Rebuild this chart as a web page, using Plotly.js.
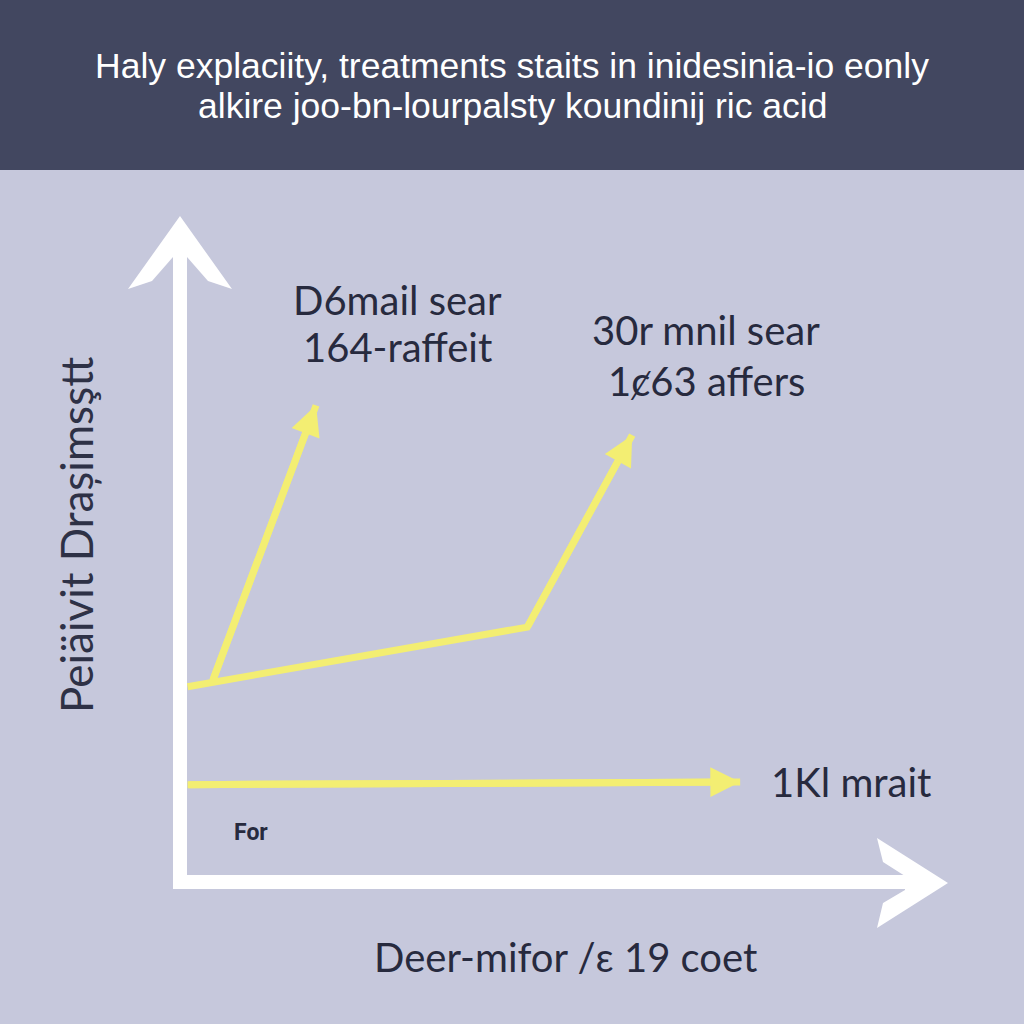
<!DOCTYPE html>
<html>
<head>
<meta charset="utf-8">
<script src="https://cdn.plot.ly/plotly-3.0.1.min.js"></script>
<style>html,body{margin:0;padding:0;background:#c6c8dc;}#chart{width:1024px;height:1024px;}</style>
</head>
<body>
<div id="chart"></div>
<script>
// ---- data (chart units, 0..10 on both axes) ----
const riseX = [0.1, 4.57, 5.95];
const riseY = [2.95, 3.85, 6.75];
const steepX = [0.43, 1.79];
const steepY = [3.04, 7.2];
const flatX = [0.1, 7.37];
const flatY = [1.47, 1.51];

const titleLines = ["Haly explaciity, treatments staits in inidesinia-io eonly", "alkire joo-bn-lourpalsty koundinij ric acid"];
const labelSteep = ["D6mail sear", "164-raffeit"];
const labelRise = ["30r mnil sear", "1ȼ63 affers"];
const labelFlat = "1Kl mrait";
const labelFor = "For";
const yTitle = "Peiäivit Drașimsştt";
const xTitle = "Deer-mifor /ɛ 19 coet";

// ---- layout geometry (pixels) ----
const L = 180, R = 940, T = 220, B = 882;
const px = x => (x - L) / (R - L);
const py = y => (B - y) / (B - T);
const pathOf = pts => 'M' + pts.map(p => px(p[0]) + ',' + py(p[1])).join(' L') + ' Z';

const yellow = '#f3ee72';
const dark = '#272a3e';
const white = '#ffffff';
const labelFont = 'Lato, "Noto Sans", sans-serif';
const titleFont = '"Liberation Sans", Arial, sans-serif';

function seriesTrace(xs, ys) {
  return {x: xs, y: ys, type: 'scatter', mode: 'lines', hoverinfo: 'skip',
    line: {color: yellow, width: 7}, showlegend: false};
}
function headAnn(xs, ys) {
  const n = xs.length;
  return {x: xs[n-1], y: ys[n-1], ax: xs[n-2], ay: ys[n-2], xref: 'x', yref: 'y', axref: 'x', ayref: 'y',
    text: '', showarrow: true, arrowhead: 2, arrowsize: 0.85, arrowwidth: 7, arrowcolor: yellow, standoff: 0};
}
function label(x, y, text, size, extra) {
  return Object.assign({xref: 'paper', yref: 'paper', x: px(x), y: py(y), text: text, showarrow: false,
    xanchor: 'center', yanchor: 'middle', font: {family: labelFont, size: size, color: dark}}, extra || {});
}

const traces = [seriesTrace(riseX, riseY), seriesTrace(steepX, steepY), seriesTrace(flatX, flatY)];

const annotations = [
  headAnn(riseX, riseY), headAnn(steepX, steepY), headAnn(flatX, flatY),
  label(512, 106, titleLines[1], 35.5, {font: {family: titleFont, size: 35.5, color: white}}),
  label(397, 300, labelSteep[0], 40),
  label(397, 347, labelSteep[1], 40),
  label(706, 330, labelRise[0], 40),
  label(706, 381, labelRise[1], 40),
  label(769, 782, labelFlat, 40, {xanchor: 'left'}),
  label(232, 832, labelFor, 23, {xanchor: 'left', font: {family: 'Roboto, sans-serif', size: 23, color: dark, weight: 'bold'}}),
  label(76, 535, yTitle, 44, {textangle: -90, font: {family: labelFont, size: 44, color: '#2e3146'}}),
  label(565, 957, xTitle, 40)
];

const shapes = [
  {type: 'rect', xref: 'paper', yref: 'paper', x0: px(-10), x1: px(1034), y0: py(170), y1: py(-10),
   fillcolor: '#424760', line: {width: 0}, layer: 'below'},
  // y axis stem + head
  {type: 'line', xref: 'paper', yref: 'paper', x0: px(180), x1: px(180), y0: py(889), y1: py(235),
   line: {color: white, width: 14}},
  {type: 'path', xref: 'paper', yref: 'paper',
   path: pathOf([[180,216],[232,289],[208,281],[187,257],[173,257],[152,281],[128,289]]),
   fillcolor: white, line: {width: 0}},
  // x axis stem + head
  {type: 'line', xref: 'paper', yref: 'paper', x0: px(173), x1: px(930), y0: py(882), y1: py(882),
   line: {color: white, width: 14}},
  {type: 'path', xref: 'paper', yref: 'paper',
   path: pathOf([[948,883],[877,928],[883,903],[905,890],[905,876],[883,862],[877,838]]),
   fillcolor: white, line: {width: 0}}
];

const layout = {
  width: 1024, height: 1024,
  margin: {l: L, r: 1024 - R, t: T, b: 1024 - B},
  paper_bgcolor: '#c6c8dc', plot_bgcolor: 'rgba(0,0,0,0)',
  title: {text: titleLines[0], x: 0.5, xanchor: 'center', xref: 'container', y: 1 - 66/1024, yanchor: 'middle', yref: 'container',
    font: {family: titleFont, size: 35.5, color: white}},
  xaxis: {range: [0, 10], visible: false, fixedrange: true},
  yaxis: {range: [0, 10], visible: false, fixedrange: true},
  shapes: shapes,
  annotations: annotations,
  showlegend: false
};

Plotly.newPlot('chart', traces, layout, {displayModeBar: false, staticPlot: true});
</script>
</body>
</html>
